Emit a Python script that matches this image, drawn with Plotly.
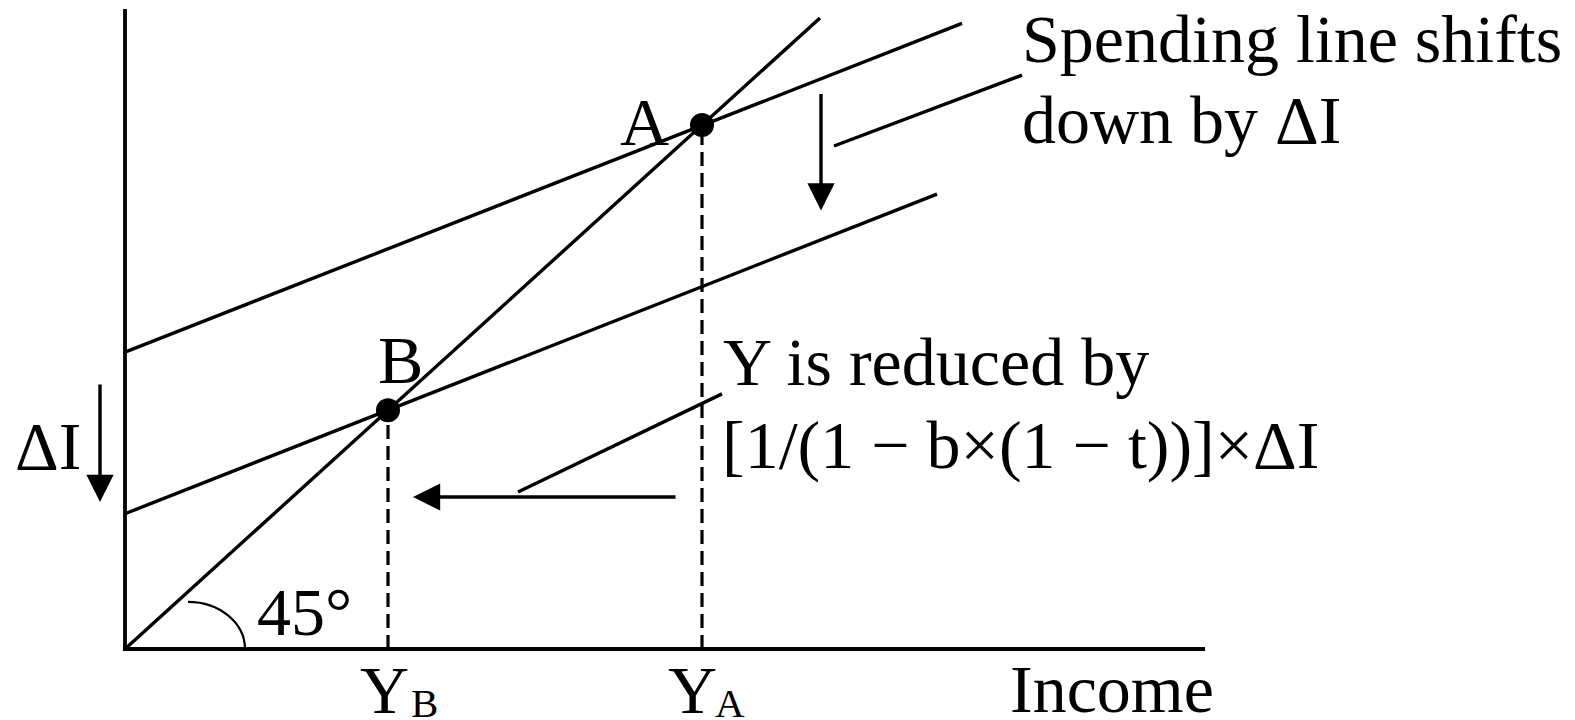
import plotly.graph_objects as go

# ---- data (diagram units) ----
line45_x = [0.0, 6.95]
line45_y = [0.0, 6.95]
spend_hi_x = [0.0, 8.37]
spend_hi_y = [3.27, 6.89]
spend_lo_x = [0.0, 8.12]
spend_lo_y = [1.49, 5.01]
eq_labels = ["A", "B"]
eq_income = [5.77, 2.63]
axis_x_end = 10.8
axis_y_end = 7.05

FONT = "Liberation Serif, Times New Roman, serif"
FS = 68
SUB_FS = 41
BLK = "black"
LW = 3.4

fig = go.Figure()

def seg(xs, ys, width=LW, dash=None):
    fig.add_trace(go.Scatter(x=xs, y=ys, mode="lines",
                             line=dict(color=BLK, width=width, dash=dash),
                             hoverinfo="skip", showlegend=False))

# axes
seg([0, 0], [-0.02, axis_y_end], width=3.8)
seg([-0.02, axis_x_end], [0, 0], width=3.8)

# dashed drop lines
for yv in eq_income:
    seg([yv, yv], [0, yv], width=3.2, dash="14px,7px")

# lines
seg(line45_x, line45_y)
seg(spend_hi_x, spend_hi_y)
seg(spend_lo_x, spend_lo_y)

# leader lines
seg([7.09, 8.97], [5.54, 6.32])
seg([3.93, 5.97], [1.73, 2.81])

# equilibrium points
fig.add_trace(go.Scatter(x=eq_income, y=eq_income, mode="markers",
                         marker=dict(color=BLK, size=24),
                         hoverinfo="skip", showlegend=False))

# 45 degree arc (quarter ellipse)
cx, cy, rx, ry = 0.63, 0.0, 0.57, 0.52
k = 0.5523
fig.add_shape(type="path", xref="x", yref="y",
              path=(f"M {cx},{cy+ry} C {cx+k*rx},{cy+ry} {cx+rx},{cy+k*ry} {cx+rx},{cy}"),
              line=dict(color=BLK, width=2.2))

# arrows
def arrow(x_tail, y_tail, x_tip, y_tip):
    fig.add_annotation(x=x_tip, y=y_tip, ax=x_tail, ay=y_tail,
                       xref="x", yref="y", axref="x", ayref="y",
                       text="", showarrow=True, arrowhead=2,
                       arrowwidth=3.4, arrowsize=1.6, arrowcolor=BLK,
                       standoff=0, startstandoff=0)

arrow(-0.25, 2.93, -0.25, 1.62)
arrow(6.96, 6.13, 6.96, 4.83)
arrow(5.52, 1.674, 2.88, 1.674)

# text
def label(x, y, text, size=FS, xanchor="left"):
    fig.add_annotation(x=x, y=y, xref="x", yref="y", text=text,
                       showarrow=False, xanchor=xanchor, yanchor="middle",
                       borderpad=0, borderwidth=0,
                       font=dict(family=FONT, size=size, color=BLK))

label(8.97, 6.717, "Spending line shifts")
label(8.97, 5.825, "down by ΔI")
label(5.19, 5.803, eq_labels[0], xanchor="center")
label(2.75, 3.182, eq_labels[1], xanchor="center")
label(5.98, 3.160, "Y is reduced by")
label(5.97, 2.246, "[1/(1 − b×(1 − t))]×ΔI")
label(-1.10, 2.235, "ΔI")
label(1.32, 0.407, "45°")
label(2.35, -0.452, "Y")
label(2.86, -0.596, "B", size=SUB_FS)
label(5.43, -0.452, "Y")
label(5.90, -0.596, "A", size=SUB_FS)
label(8.85, -0.441, "Income")

fig.update_layout(
    width=1575, height=720,
    margin=dict(l=0, r=0, t=0, b=0),
    paper_bgcolor="white", plot_bgcolor="white",
    showlegend=False,
    xaxis=dict(range=[-1.25, 14.5], visible=False, fixedrange=True),
    yaxis=dict(range=[-0.782, 7.148], visible=False, fixedrange=True),
)

fig.write_html("out.html",
               config={"displayModeBar": False},
               post_script="document.body.style.margin='0';document.body.style.overflow='hidden';")
